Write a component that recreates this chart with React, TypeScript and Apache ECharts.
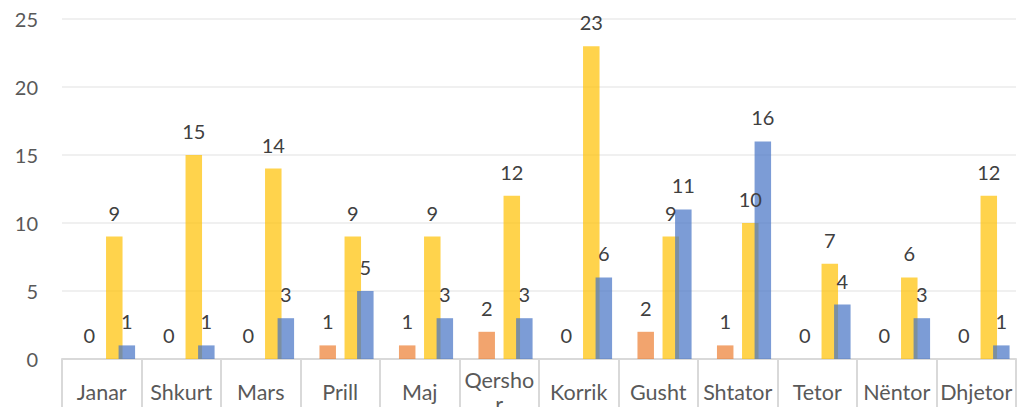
import React, { useEffect, useRef } from "react";
import * as echarts from "echarts";

const categories = ["Janar", "Shkurt", "Mars", "Prill", "Maj", "Qershor", "Korrik", "Gusht", "Shtator", "Tetor", "Nëntor", "Dhjetor"];
const orangeValues = [0, 0, 0, 1, 1, 2, 0, 2, 1, 0, 0, 0];
const yellowValues = [9, 15, 14, 9, 9, 12, 23, 9, 10, 7, 6, 12];
const blueValues = [1, 1, 3, 5, 3, 3, 6, 11, 16, 4, 3, 1];
const emptyValues = categories.map(() => "-");
const yTicks = { min: 0, max: 25, interval: 5 };

const FONT = "Lato, 'Noto Sans', sans-serif";

export default function App() {
  const ref = useRef<HTMLDivElement>(null);
  useEffect(() => {
    document.body.style.margin = "0";
    if (!ref.current) return;
    const chart = echarts.init(ref.current, null, { renderer: "svg" });
    const label = {
      show: true,
      position: "top",
      distance: 14,
      color: "#404040",
      fontSize: 20,
      fontFamily: FONT,
    };
    const barBase = { type: "bar", barWidth: 16.5, barGap: "-24%" };
    chart.setOption({
      animation: false,
      grid: { left: 62, right: 2, top: 19, bottom: 48, containLabel: false, outerBoundsMode: "none" },
      xAxis: {
        type: "category",
        data: categories,
        axisLine: { show: true, lineStyle: { color: "#D9D9D9", width: 2 } },
        axisTick: { show: true, interval: 0, length: 60, lineStyle: { color: "#D9D9D9", width: 2 } },
        axisLabel: {
          interval: 0,
          margin: 33,
          verticalAlign: "middle",
          lineHeight: 24,
          color: "#595959",
          fontSize: 21.5,
          fontFamily: FONT,
          formatter: (v: string) => (v === "Qershor" ? "Qersho\nr" : v),
        },
      },
      yAxis: {
        type: "value",
        min: yTicks.min,
        max: yTicks.max,
        interval: yTicks.interval,
        axisLine: { show: false },
        axisTick: { show: false },
        splitLine: { lineStyle: { color: "#EBEBEB", width: 1.5 } },
        axisLabel: { margin: 24, color: "#595959", fontSize: 20, fontFamily: FONT },
      },
      series: [
        { ...barBase, name: "s0", data: emptyValues, silent: true },
        { ...barBase, name: "Orange", data: orangeValues, itemStyle: { color: "rgba(237,125,49,0.7)" }, label },
        { ...barBase, name: "s2", data: emptyValues, silent: true },
        { ...barBase, name: "Yellow", data: yellowValues, itemStyle: { color: "rgba(255,192,0,0.7)" }, label },
        { ...barBase, name: "Blue", data: blueValues, itemStyle: { color: "rgba(68,114,196,0.7)" }, label },
      ],
    });
    return () => chart.dispose();
  }, []);
  return <div ref={ref} style={{ width: 1018, height: 407 }} />;
}
